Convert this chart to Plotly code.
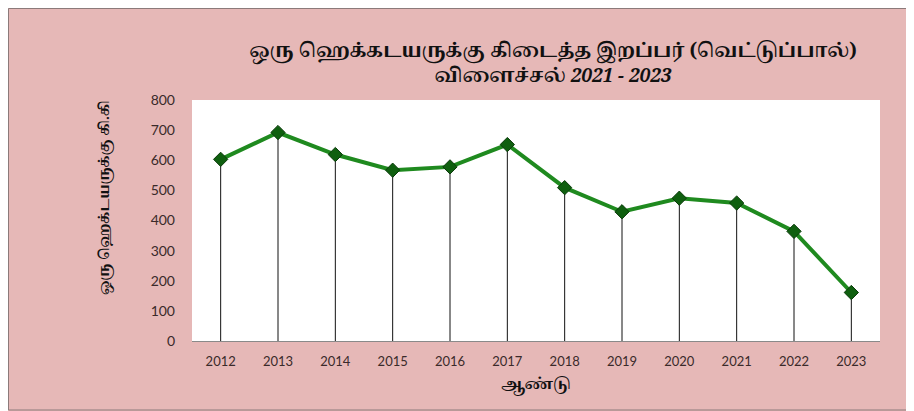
import plotly.graph_objects as go

years = ["2012", "2013", "2014", "2015", "2016", "2017", "2018", "2019", "2020", "2021", "2022", "2023"]
yield_per_ha = [603, 692, 619, 567, 578, 652, 509, 429, 474, 458, 364, 161]
y_ticks = [0, 100, 200, 300, 400, 500, 600, 700, 800]

title_line1 = "ஒரு ஹெக்கடயருக்கு கிடைத்த இறப்பர் (வெட்டுப்பால்)"
title_line2 = "விளைச்சல் <i>2021 - 2023</i>"
x_title = "ஆண்டு"
y_title = "ஒரு ஹெக்டயருக்கு கி.கி"

BG = "#E6B8B7"
TXT = "#3a2a2a"
TAMIL = "Noto Serif Tamil, Noto Sans Tamil, Lohit Tamil, Liberation Serif, serif"

# page has an 8px body margin, so the figure is sized to fill the rest of the window
W, H = 906, 403
L, T, R, B = 184, 92, 34, 70
PW, PH = W - L - R, H - T - B

fig = go.Figure()
fig.add_trace(go.Scatter(
    x=years, y=yield_per_ha, mode="lines+markers",
    line=dict(color="#1f8a1f", width=4),
    marker=dict(symbol="diamond", size=11, color="#0f5f0f",
                line=dict(color="#0a3a0a", width=1)),
    error_y=dict(type="data", symmetric=False,
                 array=[0] * len(yield_per_ha), arrayminus=yield_per_ha,
                 width=0, color="#111111", thickness=1),
    showlegend=False, hoverinfo="x+y",
))

fig.update_layout(
    width=W, height=H,
    paper_bgcolor=BG, plot_bgcolor="white",
    margin=dict(l=L, r=R, t=T, b=B),
    title=dict(
        text="<b>" + title_line1 + "<br>" + title_line2 + "</b>",
        x=(553 - 8) / W, xanchor="center", y=1 - (57 - 8) / H, yanchor="middle",
        font=dict(family=TAMIL, size=19, color="#111111"),
    ),
    xaxis=dict(
        type="category", range=[-0.5, 11.5],
        showgrid=False, zeroline=False,
        showline=True, linecolor="#8a8a8a", linewidth=1,
        ticks="", ticklabelstandoff=8,
        tickfont=dict(family="Lato, Open Sans, sans-serif", size=13, color=TXT),
        title=dict(text="<b>" + x_title + "</b>", standoff=10,
                   font=dict(family=TAMIL, size=15, color="#111111")),
    ),
    yaxis=dict(
        range=[0, 800], tickvals=y_ticks,
        showgrid=False, zeroline=False, showline=False,
        ticks="", ticklabelstandoff=16,
        tickfont=dict(family="Lato, Open Sans, sans-serif", size=14, color=TXT),
    ),
    annotations=[dict(
        text="<b>" + y_title + "</b>", textangle=-90, showarrow=False,
        xref="paper", yref="paper",
        x=(105 - 8 - L) / PW, y=(H - B - (198 - 8)) / PH,
        xanchor="center", yanchor="middle",
        font=dict(family=TAMIL, size=13.5, color="#111111"),
    )],
    shapes=[dict(type="rect", xref="paper", yref="paper",
                 x0=(0.5 - L) / PW, x1=(W - 2 - L) / PW,
                 y0=(-B + 1) / PH, y1=(PH + T - 0.5) / PH,
                 line=dict(color="#8c7a7a", width=1), fillcolor="rgba(0,0,0,0)",
                 layer="below")],
)

fig.write_html("out.html")
